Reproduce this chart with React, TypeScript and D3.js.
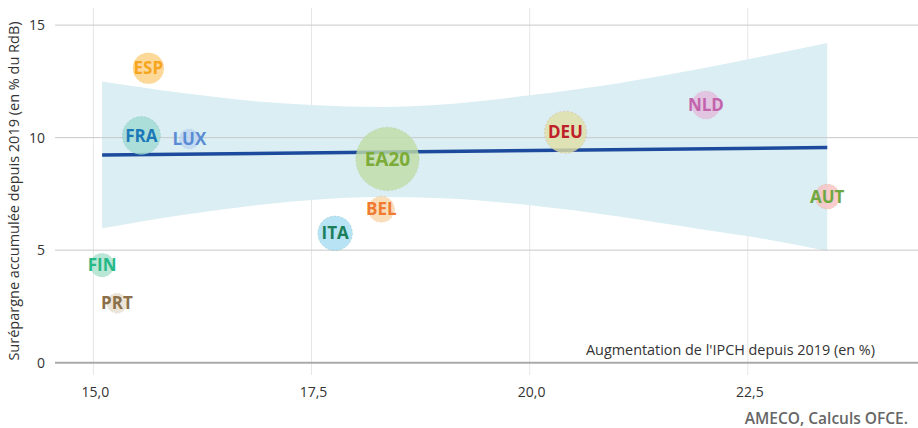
import React from "react";
import * as d3 from "d3";

const countries = ["ESP", "FRA", "LUX", "FIN", "PRT", "EA20", "BEL", "ITA", "DEU", "NLD", "AUT"];
const inflation = [15.63, 15.55, 16.1, 15.1, 15.27, 18.37, 18.3, 17.77, 20.41, 22.02, 23.41];
const excessSaving = [13.08, 10.09, 9.94, 4.34, 2.64, 9.05, 6.82, 5.75, 10.24, 11.45, 7.38];
const weight = [24, 36, 10, 14, 10, 100, 17, 30, 44, 19.5, 15.5];
const fillColors = ["#fccf80", "#9fd9d2", "#bdd4f0", "#a9e0cc", "#e6dfcf", "#bfdca5", "#f6d6a8", "#a5dcf1", "#e0dea4", "#e3bcdc", "#f7c1c1"];
const labelColors = ["#f7a51e", "#1b78b8", "#5a8cd4", "#26b887", "#8b7049", "#7cab3a", "#f07a30", "#1a7f5a", "#c0202a", "#c264ac", "#6ea842"];

const bandX = [15.1, 16.0, 17.0, 17.5, 18.3, 19.0, 20.0, 21.0, 22.0, 22.5, 23.41];
const bandLow = [5.97, 6.55, 7.05, 7.23, 7.36, 7.31, 7.0, 6.51, 5.91, 5.62, 4.96];
const bandHigh = [12.49, 11.99, 11.57, 11.45, 11.36, 11.47, 11.88, 12.41, 13.09, 13.48, 14.2];
const fitX = [15.1, 23.41];
const fitY = [9.23, 9.56];

const xTicks = [15, 17.5, 20, 22.5];
const yTicks = [0, 5, 10, 15];

const FONT = "'Open Sans', sans-serif";

export default function App() {
  const W = 918, H = 428;
  const left = 55, right = 918, top = 8, bottom = 362.7;
  const x = d3.scaleLinear().domain([14.56, 24.45]).range([left, right]);
  const y = d3.scaleLinear().domain([0, 15.76]).range([bottom, top]);
  const r = d3.scaleSqrt().domain([0, 100]).range([0, 31.7]);
  const fmt = (v: number) => d3.format(".1f")(v).replace(".", ",");

  const area = d3.area<number>()
    .x((_, i) => x(bandX[i]))
    .y0((_, i) => y(bandLow[i]))
    .y1((_, i) => y(bandHigh[i]))
    .curve(d3.curveMonotoneX);
  const line = d3.line<number>().x((_, i) => x(fitX[i])).y((_, i) => y(fitY[i]));

  const order = d3.range(countries.length).sort((a, b) => weight[b] - weight[a]);

  return (
    <div style={{ position: "absolute", left: 0, top: 0 }}>
      <svg width={W} height={H} style={{ display: "block", fontFamily: FONT }}>
        <rect width={W} height={H} fill="#fff" />
        {xTicks.map((t) => (
          <line key={"vx" + t} x1={x(t)} x2={x(t)} y1={top} y2={375} stroke="#e6e6e6" strokeWidth={1} />
        ))}
        <path d={area(bandX) || ""} fill="#dbeef3" />
        {yTicks.filter((t) => t !== 0).map((t) => (
          <line key={"gy" + t} x1={left} x2={right} y1={y(t)} y2={y(t)} stroke="#c8c8c8" strokeWidth={1} />
        ))}
        <line x1={left} x2={right} y1={y(0)} y2={y(0)} stroke="#aaaaaa" strokeWidth={2} />
        <path d={line(fitX) || ""} fill="none" stroke="#1c4a9c" strokeWidth={3.5} />
        {order.map((i) => (
          <circle
            key={"c" + countries[i]}
            cx={x(inflation[i])}
            cy={y(excessSaving[i])}
            r={r(weight[i])}
            fill={fillColors[i]}
            fillOpacity={0.8}
            stroke={labelColors[i]}
            strokeOpacity={0.15}
            strokeDasharray="2,2"
            strokeWidth={1}
          />
        ))}
        {order.map((i) => (
          <text
            key={"l" + countries[i]}
            x={x(inflation[i])}
            y={y(excessSaving[i])}
            dy="0.36em"
            textAnchor="middle"
            fontWeight="bold"
            fontSize={countries[i] === "EA20" ? 19 : 17}
            fill={labelColors[i]}
          >
            {countries[i]}
          </text>
        ))}
        {yTicks.map((t) => (
          <text key={"ty" + t} x={45} y={y(t)} dy="0.35em" textAnchor="end" fontSize={14} fill="#333">
            {t}
          </text>
        ))}
        {xTicks.map((t) => (
          <text key={"tx" + t} x={x(t) + 2} y={397} textAnchor="middle" fontSize={14} fill="#333">
            {fmt(t)}
          </text>
        ))}
        <text
          transform={`translate(19,${191}) rotate(-90)`}
          textAnchor="middle"
          fontSize={14.5}
          fill="#333"
        >
          Surépargne accumulée depuis 2019 (en % du RdB)
        </text>
        <text x={875} y={355} textAnchor="end" fontSize={14.4} fill="#333">
          Augmentation de l'IPCH depuis 2019 (en %)
        </text>
        <text x={908} y={424} textAnchor="end" fontSize={15.5} fontWeight={600} fill="#666">
          AMECO, Calculs OFCE.
        </text>
      </svg>
    </div>
  );
}
